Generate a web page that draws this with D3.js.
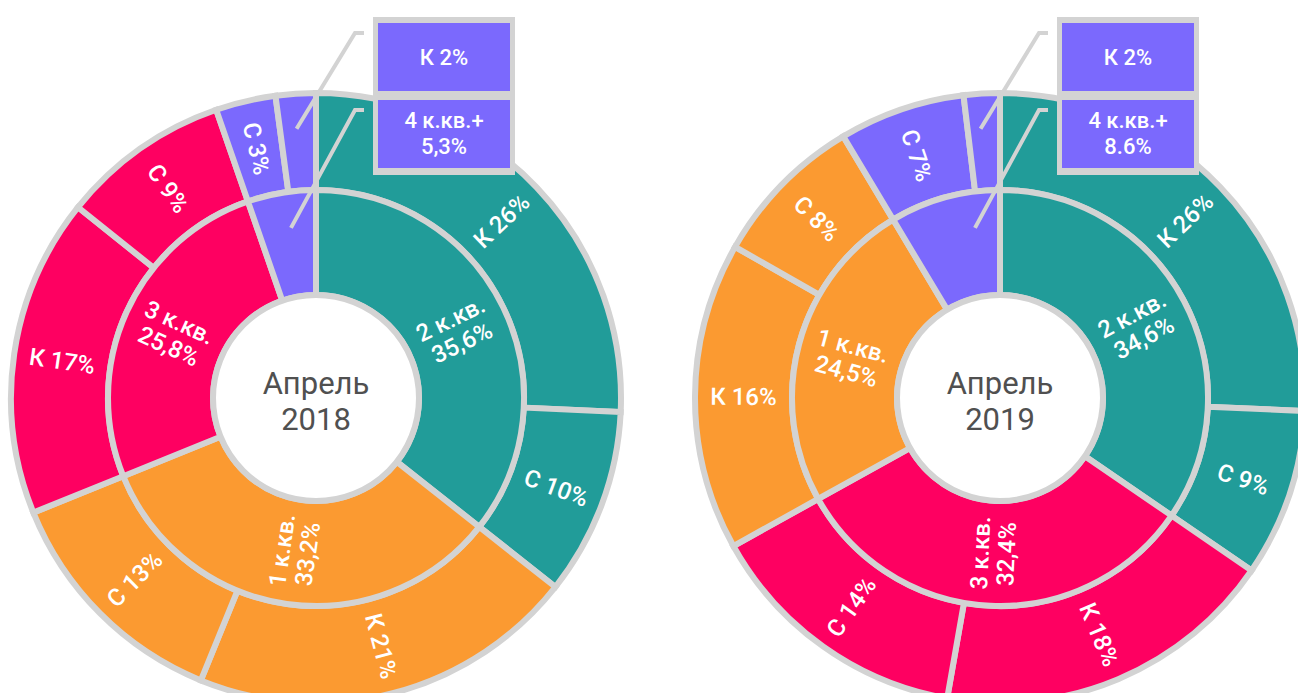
<!DOCTYPE html>
<html>
<head>
<meta charset="utf-8">
<script src="https://cdn.jsdelivr.net/npm/d3@7"></script>
<style>
  body { margin: 0; background: #fff; }
  svg { display: block; }
  text { font-family: "Roboto", "DejaVu Sans Condensed", sans-serif; font-weight: 500; }
</style>
</head>
<body>
<div id="chart"></div>
<script>
// data for April 2018 (clockwise from 12 o'clock)
var title2018 = ["Апрель", "2018"];
var groups2018 = ["2 к.кв.", "1 к.кв.", "3 к.кв.", "4 к.кв.+"];
var groupValues2018 = [35.6, 33.2, 25.8, 5.3];
var groupText2018 = ["35,6%", "33,2%", "25,8%", "5,3%"];
var subNames2018 = [["К", "С"], ["К", "С"], ["К", "С"], ["С", "К"]];
var subValues2018 = [[26, 10], [21, 13], [17, 9], [3, 2]];

// data for April 2019
var title2019 = ["Апрель", "2019"];
var groups2019 = ["2 к.кв.", "3 к.кв.", "1 к.кв.", "4 к.кв.+"];
var groupValues2019 = [34.6, 32.4, 24.5, 8.6];
var groupText2019 = ["34,6%", "32,4%", "24,5%", "8.6%"];
var subNames2019 = [["К", "С"], ["К", "С"], ["К", "С"], ["С", "К"]];
var subValues2019 = [[26, 9], [18, 14], [16, 8], [7, 2]];

// colour per room group
var groupColor = {
    "1 к.кв.": "#fb9a31",
    "2 к.кв.": "#219c99",
    "3 к.кв.": "#fe0061",
    "4 к.кв.+": "#7b69fd"
};

var W = 1298, H = 693;
var r0 = 103, r1 = 208, r2 = 305;
var gray = "#d3d3d3";

var svg = d3.select("#chart")
    .append("svg")
    .attr("width", W)
    .attr("height", H);

function deg(a) { return a * 180 / Math.PI; }

function labelTransform(a0, a1, r) {
    var m = deg((a0 + a1) / 2);
    return "rotate(" + (m - 90) + ") translate(" + r + ",0) rotate(" + (m < 180 ? 0 : 180) + ")";
}

function drawSunburst(cx, cy, title, groups, groupValues, groupText, subNames, subValues) {

    var g = svg.append("g").attr("transform", "translate(" + cx + "," + cy + ")");

    var pie = d3.pie().sort(null).value(d => d);
    var inner = pie(groupValues);

    var innerArc = d3.arc().innerRadius(r0).outerRadius(r1);
    var outerArc = d3.arc().innerRadius(r1).outerRadius(r2);

    // outer ring: split each group's angle among its children
    var outer = [];
    inner.forEach(function(p, i) {
        var kids = d3.pie().sort(null).startAngle(p.startAngle).endAngle(p.endAngle)(subValues[i]);
        kids.forEach(function(k, j) {
            outer.push({ arc: k, group: groups[i], name: subNames[i][j], value: subValues[i][j], gi: i });
        });
    });

    g.selectAll("path.outer")
        .data(outer)
        .enter()
        .append("path")
        .attr("class", "outer")
        .attr("d", d => outerArc(d.arc))
        .attr("fill", d => groupColor[d.group])
        .attr("stroke", gray)
        .attr("stroke-width", 6);

    g.selectAll("path.inner")
        .data(inner)
        .enter()
        .append("path")
        .attr("class", "inner")
        .attr("d", innerArc)
        .attr("fill", (d, i) => groupColor[groups[i]])
        .attr("stroke", gray)
        .attr("stroke-width", 6);

    // hole
    g.append("circle")
        .attr("r", r0)
        .attr("fill", "#fff")
        .attr("stroke", gray)
        .attr("stroke-width", 6);

    g.append("text")
        .attr("text-anchor", "middle")
        .attr("fill", "#505050")
        .attr("font-size", 31)
        .style("font-weight", 400)
        .selectAll("tspan")
        .data(title)
        .enter()
        .append("tspan")
        .attr("x", 0)
        .attr("y", (d, i) => i === 0 ? -4 : 32)
        .text(d => d);

    var last = groups.length - 1;

    // inner labels (two lines)
    inner.forEach(function(p, i) {
        if (i === last) return;
        var t = g.append("text")
            .attr("transform", labelTransform(p.startAngle, p.endAngle, (r0 + r1) / 2))
            .attr("text-anchor", "middle")
            .attr("fill", "#fff")
            .attr("font-size", 24);
        t.append("tspan").attr("x", 0).attr("y", -4).text(groups[i]);
        t.append("tspan").attr("x", 0).attr("y", 22).text(groupText[i]);
    });

    // outer labels
    g.selectAll("text.outer")
        .data(outer.filter(d => !(d.gi === last && d.name === "К")))
        .enter()
        .append("text")
        .attr("class", "outer")
        .attr("transform", d => labelTransform(d.arc.startAngle, d.arc.endAngle, (r1 + r2) / 2))
        .attr("text-anchor", "middle")
        .attr("dy", "0.35em")
        .attr("fill", "#fff")
        .attr("font-size", 24)
        .text(d => d.name + " " + d.value + "%");

    // callouts for the small 4+ room slices
    var pGroup = inner[last];
    var pKid = outer.find(d => d.gi === last && d.name === "К");
    var boxX = 57, boxW = 142;

    var p1 = d3.pointRadial(pKid.arc.endAngle - 0.072, 270);
    var p2 = d3.pointRadial(pGroup.endAngle - 0.146, 172);
    var lines = [
        [p1, -365],
        [p2, -288]
    ];
    lines.forEach(function(l) {
        g.append("path")
            .attr("d", "M" + l[0][0] + "," + l[0][1] + " L" + (boxX - 18) + "," + l[1] + " L" + (boxX - 9) + "," + l[1])
            .attr("fill", "none")
            .attr("stroke", gray)
            .attr("stroke-width", 4);
    });

    g.append("rect")
        .attr("x", boxX).attr("y", -381)
        .attr("width", boxW).attr("height", 158)
        .attr("fill", gray);
    g.append("rect")
        .attr("x", boxX + 5).attr("y", -375)
        .attr("width", boxW - 10).attr("height", 68)
        .attr("fill", groupColor[groups[last]]);
    g.append("rect")
        .attr("x", boxX + 5).attr("y", -298)
        .attr("width", boxW - 10).attr("height", 68)
        .attr("fill", groupColor[groups[last]]);

    g.append("text")
        .attr("x", boxX + boxW / 2).attr("y", -333)
        .attr("text-anchor", "middle")
        .attr("fill", "#fff")
        .attr("font-size", 22)
        .text(pKid.name + " " + pKid.value + "%");

    var bt = g.append("text")
        .attr("text-anchor", "middle")
        .attr("fill", "#fff")
        .attr("font-size", 22);
    bt.append("tspan").attr("x", boxX + boxW / 2).attr("y", -270).text(groups[last]);
    bt.append("tspan").attr("x", boxX + boxW / 2).attr("y", -244).text(groupText[last]);
}

drawSunburst(316, 398, title2018, groups2018, groupValues2018, groupText2018, subNames2018, subValues2018);
drawSunburst(1000, 398, title2019, groups2019, groupValues2019, groupText2019, subNames2019, subValues2019);
</script>
</body>
</html>
